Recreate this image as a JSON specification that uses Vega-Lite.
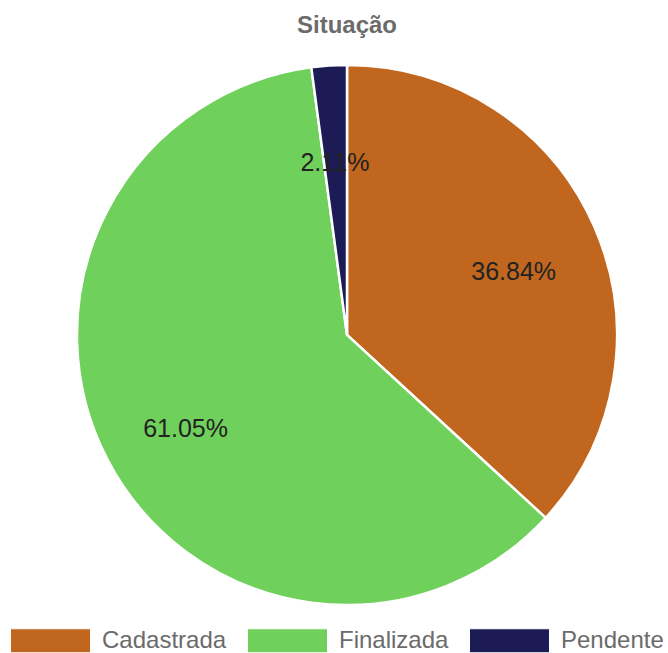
{
  "$schema": "https://vega.github.io/schema/vega-lite/v6.json",
  "autosize": "none",
  "width": 642,
  "height": 540,
  "padding": {"left": 26, "top": 65, "right": 0, "bottom": 48},
  "background": "white",
  "title": {"text": "Situação", "fontSize": 24, "fontWeight": "bold", "color": "#6b6b6b", "font": "Liberation Sans", "offset": 22, "anchor": "middle"},
  "data": {"values": [
    {"situacao": "Cadastrada", "valor": 0.3684},
    {"situacao": "Finalizada", "valor": 0.6105},
    {"situacao": "Pendente", "valor": 0.0211}
  ]},
  "encoding": {
    "theta": {"field": "valor", "type": "quantitative", "stack": true},
    "order": {"field": "situacao", "type": "ordinal", "sort": "ascending"}
  },
  "layer": [
    {"mark": {"type": "arc", "outerRadius": 270, "stroke": "white", "strokeWidth": 2.5},
     "encoding": {
      "color": {
        "field": "situacao", "type": "nominal",
        "scale": {"domain": ["Cadastrada", "Finalizada", "Pendente"], "range": ["#C0661E", "#70D05C", "#1C1B55"]},
        "legend": {
          "title": null, "orient": "none", "direction": "horizontal",
          "legendX": -16, "legendY": 535,
          "symbolType": "M-1,-0.3H1V0.3H-1Z", "symbolSize": 6400,
          "symbolStrokeWidth": 1, "symbolOpacity": 1,
          "labelFont": "Liberation Sans", "labelFontSize": 24, "labelColor": "#6b6b6b",
          "labelOffset": 11, "columnPadding": 18, "labelLimit": 300
        }
      }
     }},
    {"mark": {"type": "text", "radius": 182, "font": "Liberation Sans", "fontSize": 25, "color": "#222222", "baseline": "middle", "dy": 10},
     "encoding": {
       "detail": {"field": "situacao", "type": "nominal"},
       "text": {"field": "valor", "type": "quantitative", "format": ".2%"}}}
  ],
  "config": {"view": {"stroke": null}}
}
